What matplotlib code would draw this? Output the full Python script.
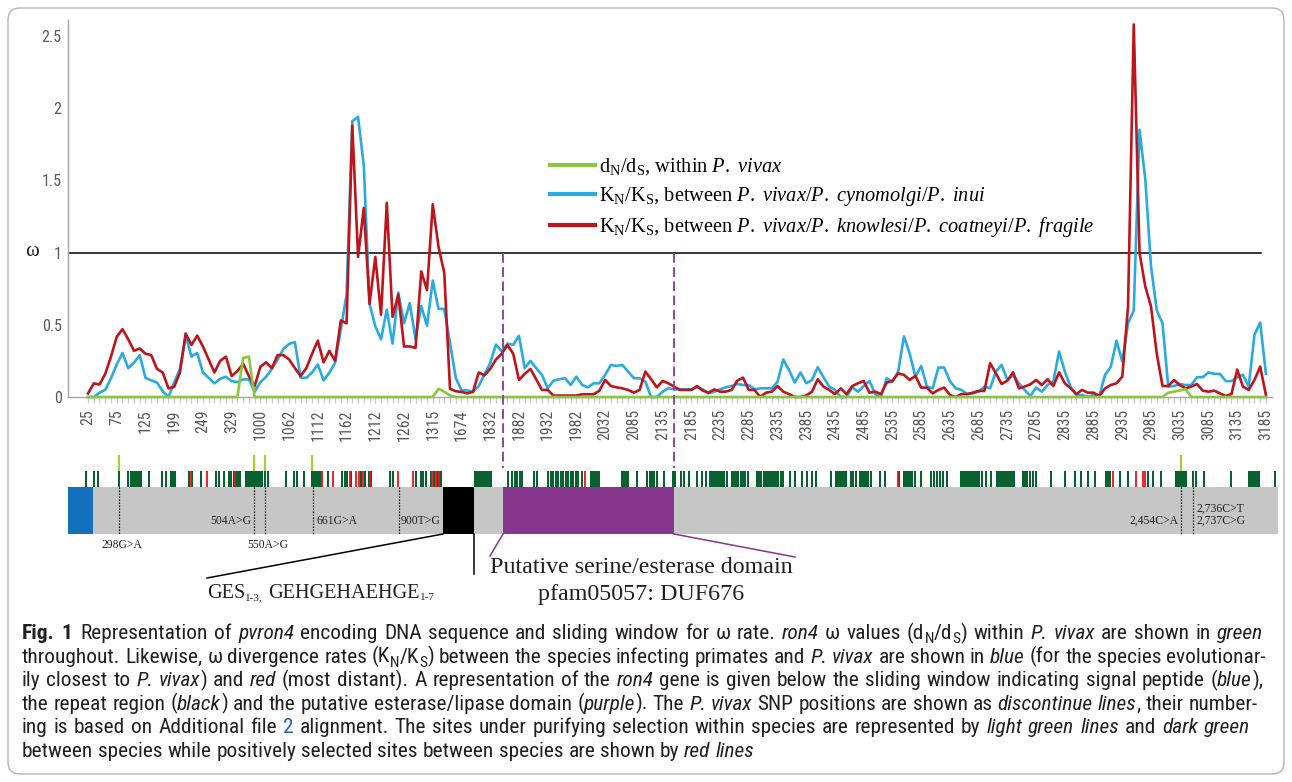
import numpy as np
import matplotlib
matplotlib.use("Agg")
import matplotlib.pyplot as plt
from matplotlib import font_manager as fm
from matplotlib.transforms import IdentityTransform
from matplotlib.lines import Line2D
from matplotlib.patches import FancyBboxPatch, Rectangle

# ---------------------------------------------------------------- data
window_labels = ['25', '75', '125', '199', '249', '329', '1000', '1062', '1112', '1162',
                 '1212', '1262', '1315', '1674', '1832', '1882', '1932', '1982', '2032', '2085',
                 '2135', '2185', '2235', '2285', '2335', '2385', '2435', '2485', '2535', '2585',
                 '2635', '2685', '2735', '2785', '2835', '2885', '2935', '2985', '3035', '3085',
                 '3135', '3185']
windows_per_label = 5

# dN/dS within P. vivax (green)
dnds_within_vivax = [
    0, 0, 0, 0, 0, 0, 0, 0, 0, 0,
    0, 0, 0, 0, 0, 0, 0, 0, 0, 0,
    0, 0, 0, 0, 0, 0, 0, 0.27, 0.28, 0,
    0, 0, 0, 0, 0, 0, 0, 0, 0, 0,
    0, 0, 0, 0, 0, 0, 0, 0, 0, 0,
    0, 0, 0, 0, 0, 0, 0, 0, 0, 0,
    0, 0.057, 0.037, 0.01, 0, 0, 0, 0, 0, 0,
    0, 0, 0, 0, 0, 0, 0, 0, 0, 0,
    0, 0, 0, 0, 0, 0, 0, 0, 0, 0,
    0, 0, 0, 0, 0, 0, 0, 0, 0, 0,
    0, 0, 0, 0, 0, 0, 0, 0, 0, 0,
    0, 0, 0, 0, 0, 0, 0, 0, 0, 0,
    0, 0, 0, 0, 0, 0, 0, 0, 0, 0,
    0, 0, 0, 0, 0, 0, 0, 0, 0, 0,
    0, 0, 0, 0, 0, 0, 0, 0, 0, 0,
    0, 0, 0, 0, 0, 0, 0, 0, 0, 0,
    0, 0, 0, 0, 0, 0, 0, 0, 0, 0,
    0, 0, 0, 0, 0, 0, 0, 0, 0, 0,
    0, 0, 0, 0, 0, 0, 0, 0, 0.03, 0.037,
    0.045, 0.055, 0, 0, 0, 0, 0, 0, 0, 0,
    0, 0, 0, 0, 0, 0]

# KN/KS between P. vivax / P. cynomolgi / P. inui (blue)
knks_close = [
    0.0, 0.0, 0.03, 0.05, 0.13, 0.225, 0.305, 0.20, 0.237, 0.29,
    0.133, 0.115, 0.10, 0.04, 0.0, 0.10, 0.195, 0.425, 0.28, 0.305,
    0.17, 0.133, 0.094, 0.126, 0.14, 0.11, 0.103, 0.122, 0.122, 0.037,
    0.103, 0.14, 0.195, 0.26, 0.333, 0.368, 0.38, 0.133, 0.133, 0.17,
    0.225, 0.115, 0.168, 0.237, 0.467, 0.71, 1.91, 1.94, 1.60, 0.645,
    0.49, 0.40, 0.605, 0.37, 0.724, 0.51, 0.65, 0.40, 0.63, 0.494,
    0.807, 0.61, 0.61, 0.375, 0.133, 0.046, 0.046, 0.037, 0.076, 0.156,
    0.237, 0.363, 0.317, 0.37, 0.361, 0.424, 0.20, 0.25, 0.20, 0.153,
    0.06, 0.113, 0.123, 0.13, 0.083, 0.141, 0.083, 0.067, 0.095, 0.095,
    0.153, 0.222, 0.215, 0.222, 0.176, 0.13, 0.13, 0.106, 0.0, 0.0,
    0.037, 0.06, 0.053, 0.053, 0.053, 0.053, 0.067, 0.053, 0.025, 0.037,
    0.053, 0.067, 0.076, 0.09, 0.083, 0.083, 0.053, 0.06, 0.06, 0.06,
    0.106, 0.26, 0.187, 0.10, 0.17, 0.095, 0.118, 0.206, 0.137, 0.072,
    0.049, 0.0, 0.0, 0.067, 0.037, 0.076, 0.111, 0.02, 0.0, 0.13,
    0.106, 0.176, 0.42, 0.30, 0.14, 0.215, 0.072, 0.06, 0.204, 0.204,
    0.11, 0.06, 0.049, 0.02, 0.025, 0.037, 0.072, 0.06, 0.176, 0.222,
    0.118, 0.153, 0.095, 0.049, 0.007, 0.065, 0.037, 0.083, 0.106, 0.315,
    0.176, 0.072, 0.014, 0.014, 0.0, 0.014, 0.007, 0.153, 0.21, 0.39,
    0.245, 0.51, 0.60, 1.85, 1.51, 0.905, 0.60, 0.51, 0.072, 0.076,
    0.09, 0.083, 0.083, 0.137, 0.137, 0.17, 0.16, 0.16, 0.11, 0.11,
    0.137, 0.153, 0.072, 0.43, 0.516, 0.16]

# KN/KS between P. vivax / P. knowlesi / P. coatneyi / P. fragile (red)
knks_distant = [
    0.025, 0.094, 0.087, 0.16, 0.28, 0.416, 0.47, 0.40, 0.32, 0.336,
    0.30, 0.29, 0.195, 0.17, 0.06, 0.07, 0.17, 0.44, 0.36, 0.425,
    0.35, 0.26, 0.17, 0.25, 0.28, 0.145, 0.18, 0.23, 0.145, 0.075,
    0.21, 0.24, 0.20, 0.29, 0.29, 0.26, 0.20, 0.145, 0.20, 0.30,
    0.39, 0.24, 0.32, 0.25, 0.53, 0.51, 1.88, 0.97, 1.31, 0.645,
    0.97, 0.57, 1.345, 0.555, 0.71, 0.35, 0.35, 0.34, 0.87, 0.74,
    1.335, 1.04, 0.86, 0.057, 0.04, 0.035, 0.025, 0.035, 0.17, 0.15,
    0.195, 0.26, 0.30, 0.36, 0.30, 0.118, 0.16, 0.194, 0.123, 0.049,
    0.049, 0.01, 0.01, 0.01, 0.01, 0.01, 0.019, 0.019, 0.019, 0.044,
    0.118, 0.076, 0.067, 0.06, 0.049, 0.03, 0.049, 0.176, 0.123, 0.067,
    0.111, 0.095, 0.072, 0.049, 0.049, 0.049, 0.076, 0.044, 0.03, 0.053,
    0.037, 0.037, 0.049, 0.113, 0.134, 0.049, 0.049, 0.0, 0.03, 0.037,
    0.076, 0.037, 0.02, 0.0, 0.0, 0.01, 0.037, 0.123, 0.072, 0.049,
    0.02, 0.06, 0.019, 0.076, 0.095, 0.111, 0.03, 0.037, 0.02, 0.10,
    0.111, 0.164, 0.153, 0.118, 0.146, 0.065, 0.065, 0.025, 0.049, 0.065,
    0.014, 0.0, 0.02, 0.02, 0.03, 0.042, 0.042, 0.234, 0.164, 0.09,
    0.113, 0.171, 0.06, 0.072, 0.088, 0.118, 0.083, 0.123, 0.076, 0.171,
    0.095, 0.06, 0.02, 0.049, 0.03, 0.03, 0.007, 0.06, 0.083, 0.095,
    0.141, 0.627, 2.58, 1.0, 0.766, 0.627, 0.30, 0.076, 0.076, 0.118,
    0.083, 0.06, 0.072, 0.09, 0.044, 0.037, 0.044, 0.025, 0.007, 0.02,
    0.19, 0.072, 0.049, 0.118, 0.21, 0.014]

y_ticks = [0, 0.5, 1, 1.5, 2, 2.5]
y_tick_labels = ['0', '0.5', '1', '1.5', '2', '2.5']
neutral_omega = 1

legend_labels = [
    r'd$_\mathregular{N}$/d$_\mathregular{S}$, within $\mathit{P.\ vivax}$',
    r'K$_\mathregular{N}$/K$_\mathregular{S}$, between $\mathit{P.\ vivax/P.\ cynomolgi/P.\ inui}$',
    r'K$_\mathregular{N}$/K$_\mathregular{S}$, between $\mathit{P.\ vivax/P.\ knowlesi/P.\ coatneyi/P.\ fragile}$',
]

# gene map (schematic map units)
gene_span = (68, 1278)
signal_peptide = (68, 93)
repeat_region = (443, 474)
esterase_domain = (503, 674)
snp_positions = [119.3, 253.7, 264.7, 313, 399, 1181, 1193]
snp_labels = ['298G>A', '504A>G', '550A>G', '661G>A', '900T>G', '2,454C>A', '2,736C>T\n2,737C>G']
purifying_within = [119.3, 253.7, 264.7, 312, 1181]
purifying_between = [
    86.3, 93.7, 98, 119, 128, 130.7, 133, 135, 137, 139, 140.7, 148.7, 162.3, 166.3, 170.7,
    172.7, 174.7, 188.7, 192, 201.3, 216.3, 218.7, 223.7, 229, 231, 233.7, 236, 238, 239.7,
    245.7, 248, 250, 252, 254, 256, 258, 260, 262, 264.7, 268, 285.7, 294, 297.3, 304, 312,
    314, 316, 318, 320, 321.3, 328, 342, 344.7, 347.3, 350.7, 360.7, 364.7, 369, 371.3,
    390.3, 393, 416.3, 420.7, 423, 426.3, 431.3, 434, 437, 439, 441.3,
    475, 477, 479, 481, 483, 485, 487, 489, 491,
    508.3, 511.7, 515, 517.3, 520, 522.3, 534.3, 536.7, 548.3, 551, 553, 556, 558, 561, 563,
    566, 568, 571, 573, 576, 578, 581.7, 591, 593, 595, 597, 599.3, 621.7, 624, 626, 628.3,
    637.3, 647.3, 650, 652, 654, 656.7, 664.3, 673.3, 675, 681, 684, 689.3, 696.7, 701.7,
    706, 710, 712, 714, 716, 718, 720, 722, 724, 727.3, 732.3, 734, 736, 738, 741, 743, 745,
    748.3, 757.3, 759, 761, 764, 766, 768, 770, 772, 774, 776, 778, 781, 783.3, 790, 795,
    801.7, 806.7, 811.7, 816, 830.7, 836, 838, 840, 842, 844, 846, 850.7, 853, 856, 860, 862,
    864, 866, 868, 870.7, 880, 885, 899,
    904, 906, 908, 910, 912, 915, 921, 931, 934, 937, 940, 943, 946.7, 961, 963, 965, 967,
    969, 971, 973, 975, 977, 979, 982, 986, 991, 996.5, 998, 1000, 1002, 1004, 1006, 1008,
    1010, 1012, 1014, 1023, 1025, 1027, 1030, 1033, 1035.6, 1051, 1065, 1075, 1081, 1088,
    1095, 1106, 1108, 1109.5, 1120, 1127.7, 1147.5, 1153, 1161, 1176, 1178, 1180, 1182, 1184,
    1186, 1192.5, 1195.7, 1203.6, 1231, 1249, 1251, 1253, 1255, 1257, 1259, 1274.7]
positive_between = [190.7, 207, 234.7, 322, 333, 349.7, 356.3, 358.7, 363, 370, 398, 413,
                    432, 436.3, 438.7, 585, 897.7, 1112.7, 1135.6, 1143, 1145]

repeat_label = [('GES', 'n'), ('1-3,', 'sub'), (' GEHGEHAEHGE', 'n'), ('1-7', 'sub')]
domain_label = ['Putative serine/esterase domain', 'pfam05057: DUF676']

caption_lines = [
    [('Fig. 1', 'b'), (9, 'gap'), ('Representation of ', 'n'), ('pvron4', 'i'),
     (' encoding DNA sequence and sliding window for ω rate. ', 'n'), ('ron4', 'i'),
     (' ω values (d', 'n'), ('N', 'sub'), ('/d', 'n'), ('S', 'sub'), (') within ', 'n'),
     ('P. vivax', 'i'), (' are shown in ', 'n'), ('green', 'i')],
    [('throughout. Likewise, ω divergence rates (K', 'n'), ('N', 'sub'), ('/K', 'n'), ('S', 'sub'),
     (') between the species infecting primates and ', 'n'), ('P. vivax', 'i'),
     (' are shown in ', 'n'), ('blue', 'i'), (' (for the species evolutionar-', 'n')],
    [('ily closest to ', 'n'), ('P. vivax', 'i'), (') and ', 'n'), ('red', 'i'),
     (' (most distant). A representation of the ', 'n'), ('ron4', 'i'),
     (' gene is given below the sliding window indicating signal peptide (', 'n'),
     ('blue', 'i'), ('),', 'n')],
    [('the repeat region (', 'n'), ('black', 'i'), (') and the putative esterase/lipase domain (', 'n'),
     ('purple', 'i'), ('). The ', 'n'), ('P. vivax', 'i'), (' SNP positions are shown as ', 'n'),
     ('discontinue lines', 'i'), (', their number-', 'n')],
    [('ing is based on Additional file ', 'n'), ('2', 'link'),
     (' alignment. The sites under purifying selection within species are represented by ', 'n'),
     ('light green lines', 'i'), (' and ', 'n'), ('dark green', 'i')],
    [('between species while positively selected sites between species are shown by ', 'n'),
     ('red lines', 'i')],
]

# ---------------------------------------------------------------- style
GREEN_LINE = '#8cc63f'
BLUE_LINE = '#29abe2'
RED_LINE = '#c0141c'
PURPLE = '#87368d'
DARK_GREEN = '#0a6130'
LIGHT_GREEN = '#a6cd3a'
SITE_RED = '#e8161c'
GRAY_BAR = '#c6c6c6'
SP_BLUE = '#1270bd'
TICK_GRAY = '#595959'
TEXT = '#231f20'
LINK = '#1f5fb0'

plt.rcParams['mathtext.fontset'] = 'custom'
plt.rcParams['mathtext.rm'] = 'Liberation Serif'
plt.rcParams['mathtext.it'] = 'Liberation Serif:italic'
plt.rcParams['mathtext.bf'] = 'Liberation Serif:bold'

names = {f.name for f in fm.fontManager.ttflist}
if 'Roboto Condensed' in names:
    SANS, STRETCH = 'Roboto Condensed', 'normal'
elif 'Liberation Sans Narrow' in names:
    SANS, STRETCH = 'Liberation Sans Narrow', 'normal'
elif any(f.name == 'DejaVu Sans' and 'condensed' in str(f.stretch) for f in fm.fontManager.ttflist):
    SANS, STRETCH = 'DejaVu Sans', 'condensed'
else:
    SANS, STRETCH = 'Liberation Sans', 'normal'
SERIF = 'Liberation Serif'

W, H = 1292, 782
fig = plt.figure(figsize=(W / 100, H / 100), dpi=100)
fig.patch.set_facecolor('white')
renderer = fig.canvas.get_renderer()
IDT = IdentityTransform()


def fam(f):
    return [f, 'DejaVu Sans']


def text_width(s, size, family, stretch='normal', **kw):
    t = fig.text(0, 0, s, transform=IDT, fontsize=size, family=fam(family), fontstretch=stretch, **kw)
    w = t.get_window_extent(renderer).width
    t.remove()
    return w


def fit_size(s, target, family, stretch='normal', **kw):
    return 10 * target / text_width(s, 10, family, stretch, **kw)


def draw_runs(fragments, x0, y_base, size, family, stretch='normal', color=TEXT,
              right=None, center=None, dry=False, sub_scale=0.72, sub_drop=0.2):
    words = [[]]
    for txt, st in fragments:
        if st == 'gap':
            words[-1].append((txt, st))
            continue
        parts = txt.split(' ')
        for k, p in enumerate(parts):
            if k > 0:
                words.append([])
            if p:
                words[-1].append((p, st))
    words = [w for w in words if any(s != 'gap' for _, s in w)]
    placed = []
    for w in words:
        items, wx = [], 0.0
        for txt, st in w:
            if st == 'gap':
                wx += txt
                continue
            fs = size * sub_scale if st == 'sub' else size
            dy = -size * 100 / 72 * sub_drop if st == 'sub' else 0.0
            t = fig.text(0, 0, txt, transform=IDT, fontsize=fs, family=fam(family),
                         fontstretch=stretch,
                         fontstyle='italic' if st == 'i' else 'normal',
                         fontweight='bold' if st == 'b' else 'normal',
                         color=LINK if st == 'link' else color, ha='left', va='baseline')
            items.append((t, wx, dy))
            wx += t.get_window_extent(renderer).width
        placed.append((items, wx))
    sp = (text_width('n n', size, family, stretch) - text_width('nn', size, family, stretch))
    words_w = sum(wx for _, wx in placed)
    n = len(placed)
    gap = sp
    if right is not None and n > 1:
        gap = (right - x0 - words_w) / (n - 1)
    total = words_w + gap * (n - 1)
    if dry:
        for items, _ in placed:
            for t, _, _ in items:
                t.remove()
        return total
    if center is not None:
        x0 = center - total / 2
    x = x0
    for items, wx in placed:
        for t, ox, dy in items:
            t.set_position((x + ox, H - y_base + dy))
        x += wx + gap
    return total


# ---------------------------------------------------------------- main chart
n = len(knks_close)
x = np.arange(n)
first_px, step_px = 88, 5.746
ax_left, ax_right, ax_top, ax_bottom = 68, 1272, 20, 397
ax = fig.add_axes([ax_left / W, (H - ax_bottom) / H, (ax_right - ax_left) / W, (ax_bottom - ax_top) / H])
ax.set_xlim((ax_left - first_px) / step_px, (ax_right - first_px) / step_px)
ax.set_ylim(0, (ax_bottom - ax_top) / 144.4)

ax.plot(x, knks_close, color=BLUE_LINE, lw=1.9, zorder=3, clip_on=False)
ax.plot(x, knks_distant, color=RED_LINE, lw=1.9, zorder=4, clip_on=False)
ax.plot(x, dnds_within_vivax, color=GREEN_LINE, lw=1.9, zorder=5, clip_on=False)
ax.axhline(neutral_omega, xmin=0, xmax=(1261 - ax_left) / (ax_right - ax_left), color='black', lw=1.1, zorder=2)

for side in ('top', 'right'):
    ax.spines[side].set_visible(False)
for side in ('left', 'bottom'):
    ax.spines[side].set_color('#a6a6a6')
    ax.spines[side].set_linewidth(1.0)

xsize = fit_size('1000', 31, SANS, STRETCH)
ysize = fit_size('0.5', 20, SANS, STRETCH)
ax.set_xticks(np.arange(0, n, windows_per_label))
ax.set_xticklabels(window_labels, rotation=90, fontsize=xsize, color=TICK_GRAY,
                   family=fam(SANS), fontstretch=STRETCH)
ax.set_xticks(x, minor=True)
ax.tick_params(axis='x', which='both', direction='out', length=4.3, width=0.9, color='#c8c8c8', pad=4.5)
ax.set_yticks(y_ticks)
ax.set_yticklabels(y_tick_labels, fontsize=ysize, color=TICK_GRAY, family=fam(SANS), fontstretch=STRETCH)
ax.tick_params(axis='y', length=0, pad=4.5)

fig.text(32, H - 252, 'ω', transform=IDT, fontsize=15, family=fam(SERIF), ha='center', va='center', color=TEXT)

# legend
leg_handles = [Line2D([], [], color=c, lw=3.0, solid_capstyle='butt') for c in (GREEN_LINE, BLUE_LINE, RED_LINE)]
leg_size = fit_size(legend_labels[2], 495, SERIF)
leg_px = leg_size * 100 / 72


def make_legend(top, ls):
    return ax.legend(leg_handles, legend_labels, loc='upper left', bbox_to_anchor=(548, H - top),
                     bbox_transform=IDT, borderaxespad=0, borderpad=0, frameon=False,
                     prop={'family': SERIF, 'size': leg_size}, handlelength=49 / leg_px,
                     handletextpad=2 / leg_px, labelspacing=ls)


def centers(lg):
    fig.canvas.draw()
    r = fig.canvas.get_renderer()
    out = []
    for t in lg.get_texts():
        bb = t.get_window_extent(r)
        out.append(H - (bb.y0 + bb.y1) / 2)
    return out


ls = 0.5
leg = make_legend(150, ls)
c = centers(leg)
ls = ls + (30 - (c[2] - c[0]) / 2) / leg_px
leg.remove()
leg = make_legend(150, ls)
c = centers(leg)
top = 150 + (167 - c[0])
leg.remove()
leg = make_legend(top, ls)
renderer = fig.canvas.get_renderer()

# ---------------------------------------------------------------- gene map
ax2 = fig.add_axes([gene_span[0] / W, (H - 610) / H, (gene_span[1] - gene_span[0]) / W, 170 / H])
ax2.set_xlim(*gene_span)
ax2.set_ylim(610, 440)
ax2.axis('off')
bar_top, bar_bot = 487, 534
ax2.add_patch(Rectangle((gene_span[0], bar_top), gene_span[1] - gene_span[0], bar_bot - bar_top, fc=GRAY_BAR, ec='none'))
ax2.add_patch(Rectangle((signal_peptide[0], bar_top), signal_peptide[1] - signal_peptide[0], bar_bot - bar_top, fc=SP_BLUE, ec='none'))
ax2.add_patch(Rectangle((repeat_region[0], bar_top), repeat_region[1] - repeat_region[0], bar_bot - bar_top, fc='black', ec='none'))
ax2.add_patch(Rectangle((esterase_domain[0], bar_top), esterase_domain[1] - esterase_domain[0], bar_bot - bar_top, fc=PURPLE, ec='none'))

ax2.vlines(purifying_between, 471, bar_top, colors=DARK_GREEN, lw=1.45)
ax2.vlines(positive_between, 471, bar_top, colors=SITE_RED, lw=1.3)
ax2.vlines(purifying_within, 455, 471, colors=LIGHT_GREEN, lw=1.6)
ax2.vlines(snp_positions, bar_top, bar_bot, colors='black', linestyles=(0, (1.2, 1.2)), lw=0.9)

snp_size = fit_size('298G>A', 41, SERIF)
snp_place = [('c', 3, 545), ('r', -2, 521), ('c', 3, 545), ('l', 3, 521), ('l', 2, 521), ('r', -3, 521), ('l', 3, 515)]
for pos, lab, (al, dx, yy) in zip(snp_positions, snp_labels, snp_place):
    ha = {'c': 'center', 'r': 'right', 'l': 'left'}[al]
    ax2.text(pos + dx, yy, lab, fontsize=snp_size, family=fam(SERIF), ha=ha, va='center',
             color=TEXT, linespacing=1.05, clip_on=False)

ax2.plot([repeat_region[0], 207], [bar_bot, 578], color='black', lw=1.1, clip_on=False)
ax2.plot([repeat_region[1], repeat_region[1]], [bar_bot, 574], color='black', lw=1.1, clip_on=False)
ax2.plot([esterase_domain[0], 490], [bar_bot, 556], color=PURPLE, lw=1.1, clip_on=False)
ax2.plot([esterase_domain[1], 795], [bar_bot, 557], color=PURPLE, lw=1.1, clip_on=False)

rep_w = draw_runs(repeat_label, 0, 0, 10, SERIF, dry=True, sub_scale=0.55, sub_drop=0.12)
draw_runs(repeat_label, 207, 598, 10 * 229 / rep_w, SERIF, sub_scale=0.55, sub_drop=0.12)
dom_size = fit_size(domain_label[0], 303, SERIF)
fig.text(641, H - 573, domain_label[0], transform=IDT, fontsize=dom_size, family=fam(SERIF), ha='center', va='baseline', color=TEXT)
fig.text(641, H - 600, domain_label[1], transform=IDT, fontsize=dom_size, family=fam(SERIF), ha='center', va='baseline', color=TEXT)

# dashed domain guides spanning chart and map
y_top_disp = ax.transData.transform((0, neutral_omega))[1]
for xd in esterase_domain:
    xdisp = ax2.transData.transform((xd, bar_top))[0]
    fig.add_artist(Line2D([xdisp, xdisp], [y_top_disp, H - 468], transform=IDT, color='#8e44a0',
                          lw=1.4, dashes=(5, 2.3), zorder=6))

# ---------------------------------------------------------------- caption
cap_size = 11 * 1244 / draw_runs(caption_lines[1], 0, 0, 11, SANS, STRETCH, dry=True)
rights = [1263, 1266, 1263, 1258, 1250, None]
for k, (frags, r) in enumerate(zip(caption_lines, rights)):
    draw_runs(frags, 22, 639 + k * 23.6, cap_size, SANS, STRETCH, right=r)

fig.add_artist(FancyBboxPatch((8, 8), W - 16, H - 16, boxstyle='round,pad=0,rounding_size=12',
                              transform=IDT, fill=False, ec='#b5b5b5', lw=1.0))

fig.savefig('out.png', dpi=100)
